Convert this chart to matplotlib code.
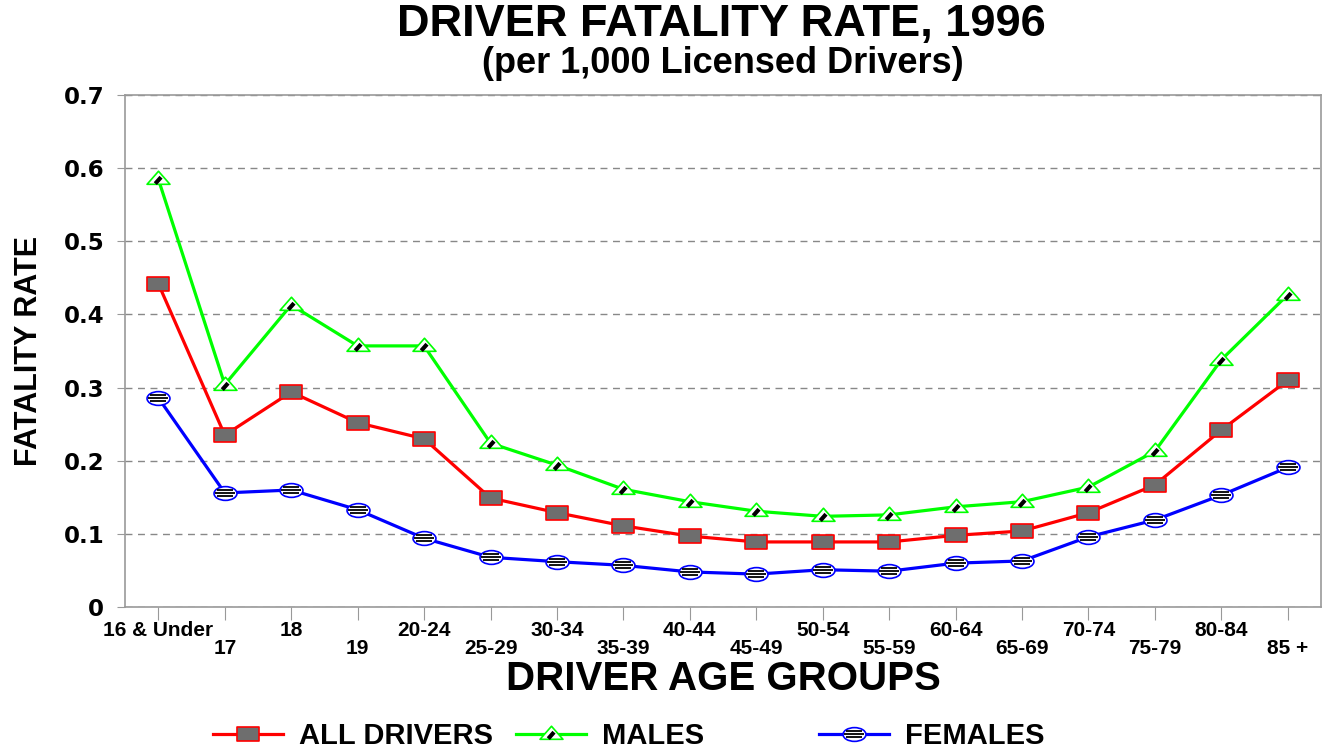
import numpy as np
import matplotlib
matplotlib.use("Agg")
from matplotlib import pyplot as plt
from matplotlib.path import Path
from matplotlib.legend_handler import HandlerTuple

age_groups = ["16 & Under", "17", "18", "19", "20-24", "25-29", "30-34", "35-39",
              "40-44", "45-49", "50-54", "55-59", "60-64", "65-69", "70-74",
              "75-79", "80-84", "85 +"]
all_drivers = [0.442, 0.235, 0.294, 0.252, 0.230, 0.149, 0.129, 0.111, 0.097,
               0.089, 0.089, 0.089, 0.098, 0.104, 0.129, 0.167, 0.242, 0.310]
males = [0.585, 0.304, 0.413, 0.357, 0.357, 0.224, 0.194, 0.161, 0.144,
         0.131, 0.124, 0.126, 0.137, 0.144, 0.164, 0.213, 0.338, 0.427]
females = [0.286, 0.156, 0.160, 0.133, 0.094, 0.068, 0.062, 0.057, 0.048,
           0.045, 0.051, 0.049, 0.060, 0.063, 0.096, 0.119, 0.153, 0.191]
y_ticks = [0, 0.1, 0.2, 0.3, 0.4, 0.5, 0.6, 0.7]
y_tick_labels = ["0", "0.1", "0.2", "0.3", "0.4", "0.5", "0.6", "0.7"]

plt.rcParams["font.family"] = ["Liberation Sans", "DejaVu Sans"]
plt.rcParams["font.weight"] = "bold"

M, L, C = Path.MOVETO, Path.LINETO, Path.CLOSEPOLY
# marker shapes (wide rectangle, flat triangle, wide ellipse)
rect = Path([(-1, -0.58), (1, -0.58), (1, 0.58), (-1, 0.58), (-1, -0.58)],
            [M, L, L, L, C])
tri = Path([(-1, -0.42), (1, -0.42), (0, 0.72), (-1, -0.42)], [M, L, L, C])
circ = Path.unit_circle()
ellipse = Path(circ.vertices * np.array([1.0, 0.6]), circ.codes)
# inner black strokes; the lone MOVETOs keep the same scale as the outline
tri_stripe = Path([(-1, 0), (1, 0), (-0.28, -0.36), (0.22, 0.2)], [M, M, M, L])
ell_stripe = Path([(-1, 0), (1, 0), (-0.72, 0.3), (0.72, 0.3),
                   (-0.9, 0.0), (0.9, 0.0), (-0.72, -0.3), (0.72, -0.3)],
                  [M, M, M, L, M, L, M, L])

fig = plt.figure(figsize=(13.31, 7.51), dpi=100)
ax = fig.add_axes([0.094, 0.1917, 0.8985, 0.6818])

x = np.arange(len(age_groups))
series = [
    ("ALL DRIVERS", all_drivers, "#ff0000", rect, "#6e6e6e", None, 0),
    ("MALES", males, "#00ff00", tri, "white", tri_stripe, 3.0),
    ("FEMALES", females, "#0000ff", ellipse, "white", ell_stripe, 1.3),
]
msize = 16.5
handles = []
for name, vals, col, mk, fc, stripe, slw in series:
    ln, = ax.plot(x, vals, color=col, lw=2.3, zorder=3)
    mk_line, = ax.plot(x, vals, ls="none", marker=mk, ms=msize, mfc=fc,
                       mec=col, mew=1.2, zorder=4)
    parts = [ln, mk_line]
    if stripe is not None:
        st, = ax.plot(x, vals, ls="none", marker=stripe, ms=msize, mec="black",
                      mew=slw, zorder=5)
        parts.append(st)
    handles.append(tuple(parts))

ax.set_xlim(-0.5, len(age_groups) - 0.5)
ax.set_ylim(0, 0.7)
ax.set_yticks(y_ticks)
ax.set_yticklabels(y_tick_labels, fontsize=16.5, fontweight="bold",
                   family="DejaVu Sans")
ax.set_xticks(x)
ax.set_xticklabels([g if i % 2 == 0 else "\n" + g for i, g in enumerate(age_groups)],
                   fontsize=15, fontweight="bold", linespacing=0.92)
ax.tick_params(axis="x", length=9, color="#999999", pad=1)
ax.tick_params(axis="y", length=6, color="#999999", pad=9)
for sp in ax.spines.values():
    sp.set_color("#999999")
    sp.set_linewidth(1.2)
ax.yaxis.grid(True, linestyle=(0, (5, 4)), color="#888888", lw=1.0)
ax.set_axisbelow(True)

ax.set_xlabel("DRIVER AGE GROUPS", fontsize=29, fontweight="bold", labelpad=2)
ax.set_ylabel("FATALITY RATE", fontsize=22, fontweight="bold", labelpad=14,
              family=["Liberation Sans Narrow", "Liberation Sans"])

fig.text(0.542, 0.968, "DRIVER FATALITY RATE, 1996", ha="center", va="center",
         fontsize=32.5, fontweight="bold")
fig.text(0.543, 0.915, "(per 1,000 Licensed Drivers)", ha="center", va="center",
         fontsize=26, fontweight="bold")

legend_x = [0.160, 0.388, 0.615]
for (name, *_), h, lx in zip(series, handles, legend_x):
    fig.legend([h], [name], loc="center left", bbox_to_anchor=(lx, 0.020),
               frameon=False, handler_map={tuple: HandlerTuple(ndivide=1)},
               handlelength=2.4, handletextpad=0.55, borderpad=0,
               borderaxespad=0, prop={"weight": "bold", "size": 21})

fig.savefig("out.png", dpi=100)
